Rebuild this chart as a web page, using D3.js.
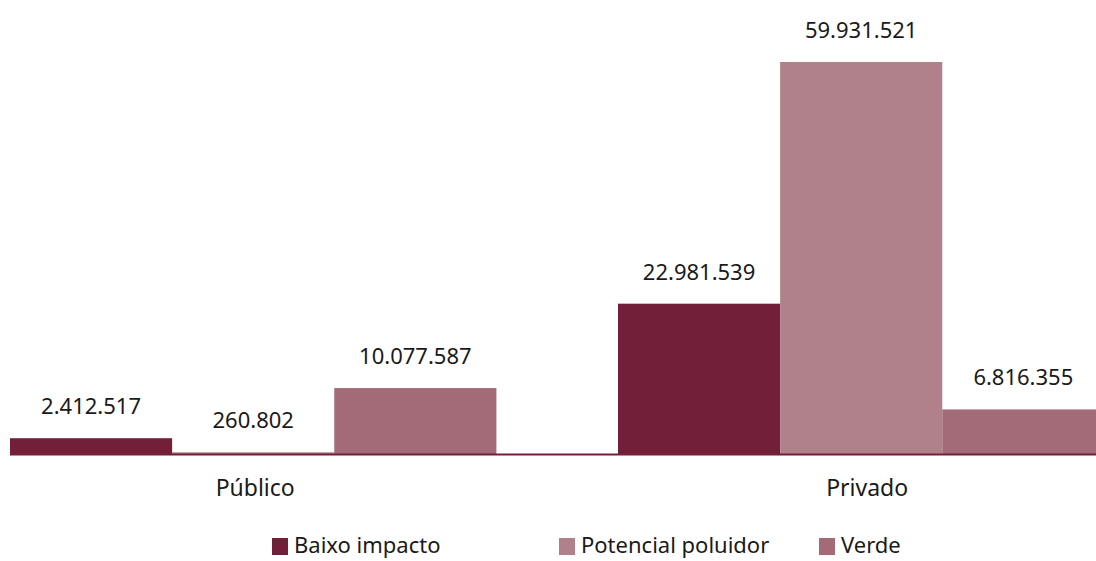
<!DOCTYPE html>
<html>
<head>
<meta charset="utf-8">
<script src="https://cdn.jsdelivr.net/npm/d3@7"></script>
<style>
  body { margin: 0; background: #fff; }
  svg { display: block; font-family: "Noto Sans", "Open Sans", sans-serif; }
</style>
</head>
<body>
<div id="chart"></div>
<script>
// data
const sectors = ['Público', 'Privado']
const seriesNames = ['Baixo impacto', 'Potencial poluidor', 'Verde']
const baixoImpacto = [2412517, 22981539]
const potencialPoluidor = [260802, 59931521]
const verde = [10077587, 6816355]

const colors = ['#722039', '#b0818a', '#a26b77']

const width = 1096, height = 561
const baseY = 454

const svg = d3.select('#chart').append('svg')
    .attr('width', width)
    .attr('height', height)

const values = [baixoImpacto, potencialPoluidor, verde]

const x0 = d3.scaleBand()
    .domain(sectors)
    .range([-50.8, 1165.2])
    .paddingInner(0.2)
    .paddingOuter(0.1)

const x1 = d3.scaleBand()
    .domain(seriesNames)
    .range([0, x0.bandwidth()])

const y = d3.scaleLinear()
    .domain([0, 59931521])
    .range([baseY, 62])

const fmt = d => d3.format(',')(d).replace(/,/g, '.')

const groups = svg.selectAll('g.sector')
    .data(sectors)
    .join('g')
    .attr('class', 'sector')
    .attr('transform', d => `translate(${x0(d)},0)`)

groups.each(function (sector, i) {
    const g = d3.select(this)
    seriesNames.forEach((s, j) => {
        const v = values[j][i]
        g.append('rect')
            .attr('x', x1(s))
            .attr('width', x1.bandwidth())
            .attr('y', y(v))
            .attr('height', baseY - y(v))
            .attr('fill', colors[j])
        g.append('text')
            .attr('x', x1(s) + x1.bandwidth() / 2)
            .attr('y', y(v) - 24)
            .attr('text-anchor', 'middle')
            .attr('font-size', 22)
            .attr('fill', '#1a1a1a')
            .text(fmt(v))
    })
})

// baseline
svg.append('line')
    .attr('x1', 10).attr('x2', width)
    .attr('y1', baseY + 0.5).attr('y2', baseY + 0.5)
    .attr('stroke', '#722039')
    .attr('stroke-width', 2)

// category labels
svg.selectAll('text.cat')
    .data(sectors)
    .join('text')
    .attr('class', 'cat')
    .attr('x', (d, i) => x0(d) + x0.bandwidth() / 2 + (i ? 6 : 2))
    .attr('y', 496)
    .attr('text-anchor', 'middle')
    .attr('font-size', 23)
    .attr('fill', '#1a1a1a')
    .text(d => d)

// legend
const legendX = [272, 559, 819]
const legend = svg.selectAll('g.legend')
    .data(seriesNames)
    .join('g')
    .attr('class', 'legend')
    .attr('transform', (d, i) => `translate(${legendX[i]},538)`)

legend.append('rect')
    .attr('width', 16).attr('height', 17)
    .attr('fill', (d, i) => colors[i])

legend.append('text')
    .attr('x', 22)
    .attr('y', 15)
    .attr('font-size', 22)
    .attr('fill', '#1a1a1a')
    .text(d => d)
</script>
</body>
</html>
